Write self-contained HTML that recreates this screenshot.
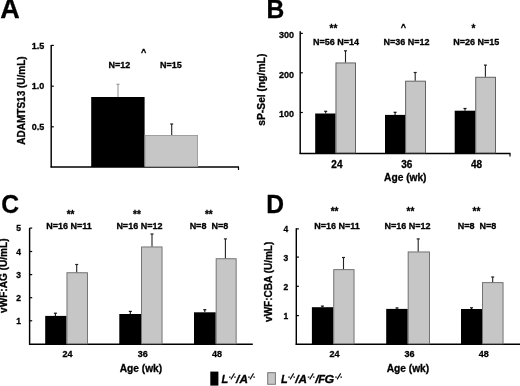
<!DOCTYPE html>
<html><head><meta charset="utf-8"><style>
html,body{margin:0;padding:0;background:#fff;}
body{width:520px;height:386px;overflow:hidden;}
svg{display:block;font-family:"Liberation Sans", sans-serif;fill:#000;will-change:transform;filter:blur(0.3px);}
text{stroke:#000;stroke-width:0.3px;}
</style></head><body>
<svg width="520" height="386" viewBox="0 0 520 386">
<text x="0.3" y="18.2" font-size="27" text-anchor="start" font-weight="bold" font-style="normal" stroke="#000" stroke-width="0.6">A</text>
<line x1="51.2" y1="45" x2="51.2" y2="167.6" stroke="#000" stroke-width="1.45"/>
<line x1="50.6" y1="167" x2="239" y2="167" stroke="#000" stroke-width="1.45"/>
<line x1="238.5" y1="167" x2="238.5" y2="170.0" stroke="#000" stroke-width="1.2"/>
<line x1="51.2" y1="45.4" x2="53.8" y2="45.4" stroke="#000" stroke-width="1.2"/>
<text x="44.3" y="48.5" font-size="9" text-anchor="end" font-weight="bold" font-style="normal" >1.5</text>
<line x1="51.2" y1="86.2" x2="53.8" y2="86.2" stroke="#000" stroke-width="1.2"/>
<text x="44.3" y="89.3" font-size="9" text-anchor="end" font-weight="bold" font-style="normal" >1.0</text>
<line x1="51.2" y1="126.8" x2="53.8" y2="126.8" stroke="#000" stroke-width="1.2"/>
<text x="44.3" y="129.9" font-size="9" text-anchor="end" font-weight="bold" font-style="normal" >0.5</text>
<rect x="91.2" y="97" width="53.4" height="70" fill="#000"/>
<line x1="118" y1="97" x2="118" y2="84.3" stroke="#9a9a9a" stroke-width="1.1"/>
<line x1="116.5" y1="84.3" x2="119.5" y2="84.3" stroke="#9a9a9a" stroke-width="1.2"/>
<rect x="145.05" y="135.45" width="52.5" height="31.1" fill="#c6c6c6" stroke="#9a9a9a" stroke-width="0.9"/>
<line x1="171.7" y1="135" x2="171.7" y2="124" stroke="#222" stroke-width="1.1"/>
<line x1="170.2" y1="124" x2="173.2" y2="124" stroke="#222" stroke-width="1.2"/>
<text x="119.4" y="68.1" font-size="9" text-anchor="middle" font-weight="bold" font-style="normal" >N=12</text>
<text x="171" y="68.1" font-size="9" text-anchor="middle" font-weight="bold" font-style="normal" >N=15</text>
<text x="143.7" y="54.8" font-size="9" text-anchor="middle" font-weight="bold" font-style="normal" >^</text>
<text x="0" y="0" font-size="10" text-anchor="middle" font-weight="bold" transform="translate(24.8,100.5) rotate(-90)">ADAMTS13 (U/mL)</text>
<text x="266.6" y="18.2" font-size="26.5" text-anchor="start" font-weight="bold" font-style="normal" stroke="#000" stroke-width="0.6" transform="translate(266.6 0) scale(0.93 1) translate(-266.6 0)">B</text>
<line x1="300.2" y1="31.3" x2="300.2" y2="154.0" stroke="#000" stroke-width="1.45"/>
<line x1="299.6" y1="153.4" x2="510.5" y2="153.4" stroke="#000" stroke-width="1.45"/>
<line x1="510.0" y1="153.4" x2="510.0" y2="156.4" stroke="#000" stroke-width="1.2"/>
<line x1="300.2" y1="33.4" x2="302.8" y2="33.4" stroke="#000" stroke-width="1.2"/>
<text x="294" y="38.3" font-size="9" text-anchor="end" font-weight="bold" font-style="normal" >300</text>
<line x1="300.2" y1="72.8" x2="302.8" y2="72.8" stroke="#000" stroke-width="1.2"/>
<text x="294" y="77.7" font-size="9" text-anchor="end" font-weight="bold" font-style="normal" >200</text>
<line x1="300.2" y1="112.5" x2="302.8" y2="112.5" stroke="#000" stroke-width="1.2"/>
<text x="294" y="117.4" font-size="9" text-anchor="end" font-weight="bold" font-style="normal" >100</text>
<rect x="315.2" y="113.5" width="20.3" height="39.9" fill="#000"/>
<line x1="325.7" y1="113.5" x2="325.7" y2="111.3" stroke="#111" stroke-width="1.1"/>
<line x1="324.2" y1="111.3" x2="327.2" y2="111.3" stroke="#111" stroke-width="1.2"/>
<rect x="335.95" y="62.95" width="19.5" height="90.0" fill="#c6c6c6" stroke="#555" stroke-width="0.9"/>
<line x1="345.5" y1="62.5" x2="345.5" y2="50.8" stroke="#222" stroke-width="1.1"/>
<line x1="344.0" y1="50.8" x2="347.0" y2="50.8" stroke="#222" stroke-width="1.2"/>
<rect x="385.0" y="114.9" width="20.2" height="38.5" fill="#000"/>
<line x1="395.1" y1="114.9" x2="395.1" y2="112.3" stroke="#111" stroke-width="1.1"/>
<line x1="393.6" y1="112.3" x2="396.6" y2="112.3" stroke="#111" stroke-width="1.2"/>
<rect x="405.65" y="81.15" width="19.8" height="71.8" fill="#c6c6c6" stroke="#555" stroke-width="0.9"/>
<line x1="415.2" y1="80.7" x2="415.2" y2="72.5" stroke="#222" stroke-width="1.1"/>
<line x1="413.7" y1="72.5" x2="416.7" y2="72.5" stroke="#222" stroke-width="1.2"/>
<rect x="454.7" y="110.7" width="20.6" height="42.7" fill="#000"/>
<line x1="465.0" y1="110.7" x2="465.0" y2="108.5" stroke="#111" stroke-width="1.1"/>
<line x1="463.5" y1="108.5" x2="466.5" y2="108.5" stroke="#111" stroke-width="1.2"/>
<rect x="475.75" y="77.25" width="19.7" height="75.7" fill="#c6c6c6" stroke="#555" stroke-width="0.9"/>
<line x1="485.4" y1="76.8" x2="485.4" y2="65.1" stroke="#222" stroke-width="1.1"/>
<line x1="483.9" y1="65.1" x2="486.9" y2="65.1" stroke="#222" stroke-width="1.2"/>
<text x="336.9" y="168.2" font-size="10" text-anchor="middle" font-weight="bold" font-style="normal" >24</text>
<text x="406.7" y="168.2" font-size="10" text-anchor="middle" font-weight="bold" font-style="normal" >36</text>
<text x="476.6" y="168.2" font-size="10" text-anchor="middle" font-weight="bold" font-style="normal" >48</text>
<text x="405.3" y="181.3" font-size="10.2" text-anchor="middle" font-weight="bold" font-style="normal" >Age (wk)</text>
<text x="336" y="44.6" font-size="9" text-anchor="middle" font-weight="bold" font-style="normal" >N=56 N=14</text>
<text x="406.5" y="44.6" font-size="9" text-anchor="middle" font-weight="bold" font-style="normal" >N=36 N=12</text>
<text x="476.3" y="44.6" font-size="9" text-anchor="middle" font-weight="bold" font-style="normal" >N=26 N=15</text>
<text x="333.5" y="32.2" font-size="10" text-anchor="middle" font-weight="bold" font-style="normal" >**</text>
<text x="403.4" y="30.4" font-size="9" text-anchor="middle" font-weight="bold" font-style="normal" >^</text>
<text x="473.5" y="32.2" font-size="10" text-anchor="middle" font-weight="bold" font-style="normal" >*</text>
<text x="0" y="0" font-size="10.3" text-anchor="middle" font-weight="bold" transform="translate(265.0,89.7) rotate(-90)">sP-Sel (ng/mL)</text>
<text x="1.2" y="213.3" font-size="26.5" text-anchor="start" font-weight="bold" font-style="normal" stroke="#000" stroke-width="0.6" transform="translate(1.2 0) scale(0.93 1) translate(-1.2 0)">C</text>
<line x1="29.6" y1="228" x2="29.6" y2="344.9" stroke="#000" stroke-width="1.45"/>
<line x1="29.0" y1="344.3" x2="252.8" y2="344.3" stroke="#000" stroke-width="1.45"/>
<line x1="29.6" y1="228.1" x2="32.2" y2="228.1" stroke="#000" stroke-width="1.2"/>
<text x="21" y="231.3" font-size="8.5" text-anchor="end" font-weight="bold" font-style="normal" >5</text>
<line x1="29.6" y1="251.5" x2="32.2" y2="251.5" stroke="#000" stroke-width="1.2"/>
<text x="21" y="254.7" font-size="8.5" text-anchor="end" font-weight="bold" font-style="normal" >4</text>
<line x1="29.6" y1="274.6" x2="32.2" y2="274.6" stroke="#000" stroke-width="1.2"/>
<text x="21" y="277.8" font-size="8.5" text-anchor="end" font-weight="bold" font-style="normal" >3</text>
<line x1="29.6" y1="297.7" x2="32.2" y2="297.7" stroke="#000" stroke-width="1.2"/>
<text x="21" y="300.9" font-size="8.5" text-anchor="end" font-weight="bold" font-style="normal" >2</text>
<line x1="29.6" y1="320.8" x2="32.2" y2="320.8" stroke="#000" stroke-width="1.2"/>
<text x="21" y="324.0" font-size="8.5" text-anchor="end" font-weight="bold" font-style="normal" >1</text>
<rect x="45.2" y="315.9" width="21.3" height="28.4" fill="#000"/>
<line x1="55.4" y1="315.9" x2="55.4" y2="313.2" stroke="#111" stroke-width="1.1"/>
<line x1="53.9" y1="313.2" x2="56.9" y2="313.2" stroke="#111" stroke-width="1.2"/>
<rect x="66.95" y="272.75" width="20.5" height="71.1" fill="#c6c6c6" stroke="#6a6a6a" stroke-width="0.9"/>
<line x1="76.7" y1="272.3" x2="76.7" y2="264.5" stroke="#222" stroke-width="1.1"/>
<line x1="75.2" y1="264.5" x2="78.2" y2="264.5" stroke="#222" stroke-width="1.2"/>
<rect x="119.3" y="314" width="21.8" height="30.3" fill="#000"/>
<line x1="130.3" y1="314" x2="130.3" y2="311.4" stroke="#111" stroke-width="1.1"/>
<line x1="128.8" y1="311.4" x2="131.8" y2="311.4" stroke="#111" stroke-width="1.2"/>
<rect x="141.55" y="246.95" width="20.5" height="96.9" fill="#c6c6c6" stroke="#6a6a6a" stroke-width="0.9"/>
<line x1="152" y1="246.5" x2="152" y2="234" stroke="#222" stroke-width="1.1"/>
<line x1="150.5" y1="234" x2="153.5" y2="234" stroke="#222" stroke-width="1.2"/>
<rect x="194" y="312.3" width="21.7" height="32.0" fill="#000"/>
<line x1="204.8" y1="312.3" x2="204.8" y2="309.7" stroke="#111" stroke-width="1.1"/>
<line x1="203.3" y1="309.7" x2="206.3" y2="309.7" stroke="#111" stroke-width="1.2"/>
<rect x="216.15" y="258.75" width="20" height="85.1" fill="#c6c6c6" stroke="#6a6a6a" stroke-width="0.9"/>
<line x1="225.4" y1="258.3" x2="225.4" y2="238.9" stroke="#222" stroke-width="1.1"/>
<line x1="223.9" y1="238.9" x2="226.9" y2="238.9" stroke="#222" stroke-width="1.2"/>
<text x="67.5" y="356.8" font-size="9" text-anchor="middle" font-weight="bold" font-style="normal" >24</text>
<text x="142.7" y="356.8" font-size="9" text-anchor="middle" font-weight="bold" font-style="normal" >36</text>
<text x="217" y="356.8" font-size="9" text-anchor="middle" font-weight="bold" font-style="normal" >48</text>
<text x="140.9" y="371.6" font-size="10.2" text-anchor="middle" font-weight="bold" font-style="normal" >Age (wk)</text>
<text x="69" y="228.6" font-size="9" text-anchor="middle" font-weight="bold" font-style="normal" >N=16 N=11</text>
<text x="139.4" y="228.6" font-size="9" text-anchor="middle" font-weight="bold" font-style="normal" >N=16 N=12</text>
<text x="208.9" y="228.6" font-size="9" text-anchor="middle" font-weight="bold" font-style="normal" xml:space="preserve">N=8  N=8</text>
<text x="70.6" y="218.0" font-size="10" text-anchor="middle" font-weight="bold" font-style="normal" >**</text>
<text x="137" y="218.0" font-size="10" text-anchor="middle" font-weight="bold" font-style="normal" >**</text>
<text x="208.8" y="218.0" font-size="10" text-anchor="middle" font-weight="bold" font-style="normal" >**</text>
<text x="0" y="0" font-size="10.1" text-anchor="middle" font-weight="bold" transform="translate(7.4,275.7) rotate(-90)">vWF:AG (U/mL)</text>
<text x="266.2" y="213.1" font-size="26.5" text-anchor="start" font-weight="bold" font-style="normal" stroke="#000" stroke-width="0.6" transform="translate(266.2 0) scale(0.93 1) translate(-266.2 0)">D</text>
<line x1="296.3" y1="228.2" x2="296.3" y2="344.9" stroke="#000" stroke-width="1.45"/>
<line x1="295.7" y1="344.3" x2="521" y2="344.3" stroke="#000" stroke-width="1.45"/>
<line x1="296.3" y1="228.9" x2="298.9" y2="228.9" stroke="#000" stroke-width="1.2"/>
<text x="288.3" y="232.3" font-size="8.5" text-anchor="end" font-weight="bold" font-style="normal" >4</text>
<line x1="296.3" y1="257.1" x2="298.9" y2="257.1" stroke="#000" stroke-width="1.2"/>
<text x="288.3" y="260.5" font-size="8.5" text-anchor="end" font-weight="bold" font-style="normal" >3</text>
<line x1="296.3" y1="286.3" x2="298.9" y2="286.3" stroke="#000" stroke-width="1.2"/>
<text x="288.3" y="289.7" font-size="8.5" text-anchor="end" font-weight="bold" font-style="normal" >2</text>
<line x1="296.3" y1="315.6" x2="298.9" y2="315.6" stroke="#000" stroke-width="1.2"/>
<text x="288.3" y="319.0" font-size="8.5" text-anchor="end" font-weight="bold" font-style="normal" >1</text>
<rect x="311.9" y="307.2" width="21.4" height="37.1" fill="#000"/>
<line x1="322.4" y1="307.2" x2="322.4" y2="306.1" stroke="#111" stroke-width="1.1"/>
<line x1="320.9" y1="306.1" x2="323.9" y2="306.1" stroke="#111" stroke-width="1.2"/>
<rect x="333.75" y="269.65" width="20.3" height="74.2" fill="#c6c6c6" stroke="#666" stroke-width="0.9"/>
<line x1="343.5" y1="269.2" x2="343.5" y2="257.5" stroke="#222" stroke-width="1.1"/>
<line x1="342.0" y1="257.5" x2="345.0" y2="257.5" stroke="#222" stroke-width="1.2"/>
<rect x="386.2" y="308.9" width="21.5" height="35.4" fill="#000"/>
<line x1="397" y1="308.9" x2="397" y2="307.9" stroke="#111" stroke-width="1.1"/>
<line x1="395.5" y1="307.9" x2="398.5" y2="307.9" stroke="#111" stroke-width="1.2"/>
<rect x="408.15" y="251.95" width="21.3" height="91.9" fill="#c6c6c6" stroke="#666" stroke-width="0.9"/>
<line x1="418.2" y1="251.5" x2="418.2" y2="238.9" stroke="#222" stroke-width="1.1"/>
<line x1="416.7" y1="238.9" x2="419.7" y2="238.9" stroke="#222" stroke-width="1.2"/>
<rect x="461" y="309" width="21" height="35.3" fill="#000"/>
<line x1="471.5" y1="309" x2="471.5" y2="307.8" stroke="#111" stroke-width="1.1"/>
<line x1="470.0" y1="307.8" x2="473.0" y2="307.8" stroke="#111" stroke-width="1.2"/>
<rect x="482.45" y="282.65" width="20.6" height="61.2" fill="#c6c6c6" stroke="#666" stroke-width="0.9"/>
<line x1="492.7" y1="282.2" x2="492.7" y2="277" stroke="#222" stroke-width="1.1"/>
<line x1="491.2" y1="277" x2="494.2" y2="277" stroke="#222" stroke-width="1.2"/>
<text x="334.6" y="356.8" font-size="9" text-anchor="middle" font-weight="bold" font-style="normal" >24</text>
<text x="409.5" y="356.8" font-size="9" text-anchor="middle" font-weight="bold" font-style="normal" >36</text>
<text x="483.8" y="356.8" font-size="9" text-anchor="middle" font-weight="bold" font-style="normal" >48</text>
<text x="407.9" y="372.3" font-size="10.2" text-anchor="middle" font-weight="bold" font-style="normal" >Age (wk)</text>
<text x="337" y="228.6" font-size="9" text-anchor="middle" font-weight="bold" font-style="normal" >N=16 N=11</text>
<text x="407.5" y="228.6" font-size="9" text-anchor="middle" font-weight="bold" font-style="normal" >N=16 N=12</text>
<text x="477" y="228.6" font-size="9" text-anchor="middle" font-weight="bold" font-style="normal" xml:space="preserve">N=8  N=8</text>
<text x="334.6" y="214.7" font-size="10" text-anchor="middle" font-weight="bold" font-style="normal" >**</text>
<text x="410.4" y="214.7" font-size="10" text-anchor="middle" font-weight="bold" font-style="normal" >**</text>
<text x="476.4" y="214.7" font-size="10" text-anchor="middle" font-weight="bold" font-style="normal" >**</text>
<text x="0" y="0" font-size="10" text-anchor="middle" font-weight="bold" transform="translate(271.7,281.8) rotate(-90)">vWF:CBA (U/mL)</text>
<rect x="210.3" y="371.6" width="8.1" height="14.0" fill="#000"/>
<rect x="267.7" y="372.7" width="7.7" height="11.6" fill="#c6c6c6" stroke="#777" stroke-width="1"/>
<text x="221.6" y="382.6" font-size="11" font-weight="bold" font-style="italic">L</text>
<path d="M229.00 377.1 H230.60 M230.90 379.4 L234.50 373.4 M234.20 377.1 H235.80" stroke="#111" stroke-width="1.15" fill="none"/>
<text x="0" y="0" transform="translate(235.9,382.6) scale(1.1,1)" font-size="11" font-weight="bold" font-style="italic">/</text>
<text x="0" y="0" transform="translate(239.4,382.6) scale(1.07,1)" font-size="11" font-weight="bold" font-style="italic">A</text>
<path d="M248.10 377.1 H249.70 M250.00 379.4 L253.60 373.4 M253.30 377.1 H254.90" stroke="#111" stroke-width="1.15" fill="none"/>
<text x="280.9" y="382.6" font-size="11" font-weight="bold" font-style="italic">L</text>
<path d="M288.20 377.1 H289.80 M290.10 379.4 L293.70 373.4 M293.40 377.1 H295.00" stroke="#111" stroke-width="1.15" fill="none"/>
<text x="0" y="0" transform="translate(295.3,382.6) scale(1.1,1)" font-size="11" font-weight="bold" font-style="italic">/</text>
<text x="0" y="0" transform="translate(298.6,382.6) scale(1.07,1)" font-size="11" font-weight="bold" font-style="italic">A</text>
<path d="M307.80 377.1 H309.40 M309.70 379.4 L313.30 373.4 M313.00 377.1 H314.60" stroke="#111" stroke-width="1.15" fill="none"/>
<text x="0" y="0" transform="translate(315.3,382.6) scale(1.1,1)" font-size="11" font-weight="bold" font-style="italic">/</text>
<text x="318.2" y="382.6" font-size="11" font-weight="bold" font-style="italic">F</text>
<text x="0" y="0" transform="translate(324.5,382.6) scale(1.13,1)" font-size="11" font-weight="bold" font-style="italic">G</text>
<path d="M335.20 377.1 H336.80 M337.10 379.4 L340.70 373.4 M340.40 377.1 H342.00" stroke="#111" stroke-width="1.15" fill="none"/>
</svg>
</body></html>
